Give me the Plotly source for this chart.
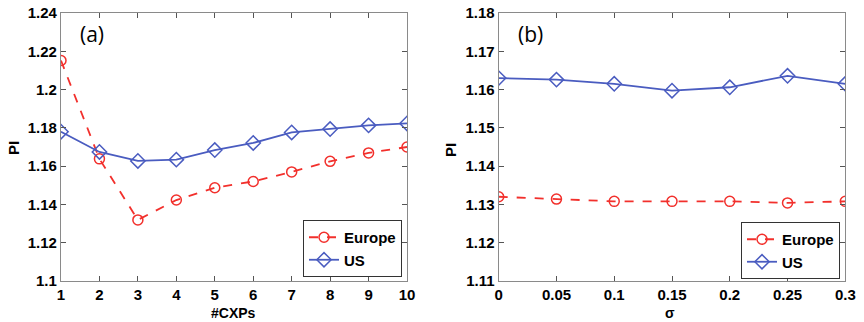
import plotly.graph_objects as go
from plotly.subplots import make_subplots

# Panel (a): PI versus number of CXPs
cxps = [1, 2, 3, 4, 5, 6, 7, 8, 9, 10]
europe_a = [1.2152, 1.1638, 1.1319, 1.1423, 1.1487, 1.1520, 1.1570, 1.1625, 1.1669, 1.1700]
us_a = [1.1780, 1.1674, 1.1627, 1.1634, 1.1684, 1.1721, 1.1776, 1.1794, 1.1813, 1.1823]

# Panel (b): PI versus sigma
sigma = [0, 0.05, 0.1, 0.15, 0.2, 0.25, 0.3]
europe_b = [1.1320, 1.1314, 1.1308, 1.1308, 1.1308, 1.1304, 1.1308]
us_b = [1.1630, 1.1626, 1.1615, 1.1597, 1.1606, 1.1636, 1.1615]

RED = "#f2302c"
BLUE = "#4a5cc0"
FONT = "Liberation Sans"

fig = make_subplots(rows=1, cols=2)


def add_pair(x, eu, us, col, legend):
    fig.add_trace(go.Scatter(
        x=x, y=eu, name="Europe", mode="lines+markers",
        line=dict(color=RED, width=1.8, dash="dash"),
        marker=dict(symbol="circle-open", size=10, color=RED, line=dict(width=1.5)),
        legend=legend), row=1, col=col)
    fig.add_trace(go.Scatter(
        x=x, y=us, name="US", mode="lines+markers",
        line=dict(color=BLUE, width=1.8),
        marker=dict(symbol="diamond-open", size=11, color=BLUE, line=dict(width=1.5)),
        legend=legend), row=1, col=col)


add_pair(cxps, europe_a, us_a, 1, "legend")
add_pair(sigma, europe_b, us_b, 2, "legend2")

axis_common = dict(
    showline=True, linecolor="#8a8a8a", linewidth=1.2, mirror="allticks",
    ticks="inside", ticklen=5, tickcolor="#555555", tickwidth=1,
    showgrid=False, zeroline=False, automargin=False,
    tickfont=dict(family=FONT, size=15, color="black", weight="bold"),
)

fig.update_xaxes(axis_common)
fig.update_yaxes(axis_common)

y0, y1 = 41 / 322, 309 / 322
fig.update_layout(
    xaxis=dict(domain=[61 / 864, 407 / 864], range=[1, 10], tickvals=cxps),
    yaxis=dict(domain=[y0, y1], range=[1.1, 1.24],
               tickvals=[1.1, 1.12, 1.14, 1.16, 1.18, 1.2, 1.22, 1.24],
               ticktext=["1.1", "1.12", "1.14", "1.16", "1.18", "1.2", "1.22", "1.24"]),
    xaxis2=dict(domain=[498.7 / 864, 845.3 / 864], range=[0, 0.3],
                tickvals=sigma, ticktext=["0", "0.05", "0.1", "0.15", "0.2", "0.25", "0.3"]),
    yaxis2=dict(domain=[y0, y1], range=[1.11, 1.18],
                tickvals=[1.11, 1.12, 1.13, 1.14, 1.15, 1.16, 1.17, 1.18],
                ticktext=["1.11", "1.12", "1.13", "1.14", "1.15", "1.16", "1.17", "1.18"]),
)

legend_common = dict(
    bgcolor="white", bordercolor="#333333", borderwidth=1,
    font=dict(family=FONT, size=15, color="black", weight="bold"),
    xanchor="right", yanchor="bottom", tracegroupgap=0, itemwidth=30,
)
fig.update_layout(
    legend=dict(legend_common, x=402 / 864, y=(322 - 277) / 322),
    legend2=dict(legend_common, x=840 / 864, y=(322 - 279) / 322),
)

annotations = [
    dict(text="(a)", x=92 / 864, y=1 - 34 / 322, font=dict(family="Open Sans", size=21, color="black")),
    dict(text="(b)", x=530 / 864, y=1 - 34 / 322, font=dict(family="Open Sans", size=21, color="black")),
    dict(text="#CXPs", x=234 / 864, y=1 - 313 / 322,
         font=dict(family=FONT, size=14, color="black", weight="bold")),
    dict(text="σ", x=670 / 864, y=1 - 313 / 322,
         font=dict(family=FONT, size=14, color="black", weight="bold")),
    dict(text="PI", x=13 / 864, y=1 - 148 / 322, textangle=-90,
         font=dict(family=FONT, size=15, color="black", weight="bold")),
    dict(text="PI", x=450 / 864, y=1 - 150 / 322, textangle=-90,
         font=dict(family=FONT, size=15, color="black", weight="bold")),
]
for a in annotations:
    a.update(xref="paper", yref="paper", showarrow=False, xanchor="center", yanchor="middle")
fig.update_layout(annotations=annotations)

fig.update_layout(
    width=864, height=322, margin=dict(l=0, r=0, t=0, b=0),
    paper_bgcolor="white", plot_bgcolor="white", showlegend=True,
)

fig.write_html("out.html")
